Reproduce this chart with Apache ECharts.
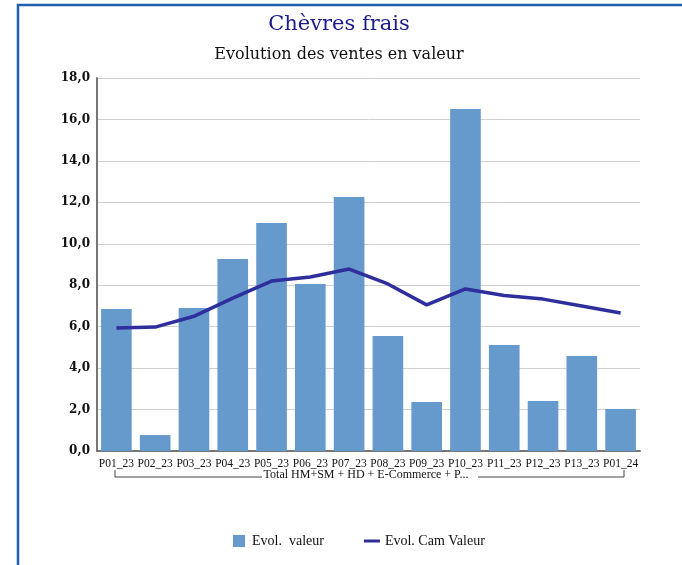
<!DOCTYPE html>
<html><head><meta charset="utf-8">
<script src="https://cdn.jsdelivr.net/npm/echarts@6/dist/echarts.min.js"></script>
<style>html,body{margin:0;padding:0;background:#fff}#c{width:682px;height:565px}</style>
</head><body><div id="c"></div>
<script>
var categories = ['P01_23','P02_23','P03_23','P04_23','P05_23','P06_23','P07_23','P08_23','P09_23','P10_23','P11_23','P12_23','P13_23','P01_24'];
var evolValeur = [6.85, 0.77, 6.9, 9.27, 11.0, 8.06, 12.26, 5.55, 2.36, 16.5, 5.12, 2.41, 4.58, 2.03];
var evolCamValeur = [5.93, 5.98, 6.5, 7.38, 8.2, 8.4, 8.78, 8.06, 7.05, 7.82, 7.5, 7.33, 7.0, 6.66];
var yTicks = {min: 0, max: 18, interval: 2};
var groupLabel = 'Total HM+SM + HD + E-Commerce + P...';

var SERIF_W = '"DejaVu Serif", "Liberation Serif", serif';
var SERIF_N = '"Liberation Serif", "DejaVu Serif", serif';
var chart = echarts.init(document.getElementById('c'));
chart.setOption({
  animation: false,
  textStyle: {fontFamily: SERIF_N},
  title: [
    {text: 'Chèvres frais', left: 334, textAlign: 'center', top: 9,
     textStyle: {fontFamily: SERIF_W, fontSize: 21, fontWeight: 'normal', color: '#1c1c8f'}},
    {text: 'Evolution des ventes en valeur', left: 334, textAlign: 'center', top: 42,
     textStyle: {fontFamily: SERIF_W, fontSize: 16, fontWeight: 'normal', color: '#111'}}
  ],
  grid: {left: 97, right: 42, top: 78, bottom: 114},
  legend: {
    top: 529, left: 228, itemGap: 40, itemWidth: 16, itemHeight: 12, symbolKeepAspect: true,
    textStyle: {fontFamily: SERIF_N, fontSize: 14, color: '#111'},
    data: [
      {name: 'Evol.  valeur', icon: 'path://M0,0H12V12H0Z'},
      {name: 'Evol. Cam Valeur', icon: 'path://M0,0H16V3H0Z', itemStyle: {color: '#2e2e9c'}}
    ]
  },
  xAxis: {
    type: 'category', data: categories,
    axisLine: {lineStyle: {color: '#777', width: 2}},
    axisTick: {show: false},
    axisLabel: {interval: 0, color: '#111', fontSize: 11.5, margin: 7, fontFamily: SERIF_N}
  },
  yAxis: {
    type: 'value', min: yTicks.min, max: yTicks.max, interval: yTicks.interval,
    axisLine: {show: true, lineStyle: {color: '#777', width: 2}},
    axisTick: {show: false},
    splitLine: {lineStyle: {color: '#d0d0d0', width: 1}},
    axisLabel: {color: '#111', fontSize: 12, fontWeight: 'bold', margin: 7, fontFamily: SERIF_W,
      formatter: function (v) { return v.toFixed(1).replace('.', ','); }}
  },
  graphic: [
    {type: 'rect', shape: {x: 18, y: 5, width: 700, height: 600}, style: {fill: 'none', stroke: '#1e5fb0', lineWidth: 2.5}},
    {type: 'polyline', shape: {points: [[115, 470], [115, 477], [262, 477]]}, style: {fill: 'none', stroke: '#444', lineWidth: 1}},
    {type: 'polyline', shape: {points: [[478, 477], [624, 477], [624, 470]]}, style: {fill: 'none', stroke: '#444', lineWidth: 1}},
    {type: 'text', x: 366, y: 475, style: {text: groupLabel, fontFamily: SERIF_N, fontSize: 12, fill: '#111', textAlign: 'center', textVerticalAlign: 'middle'}}
  ],
  series: [
    {name: 'Evol.  valeur', type: 'bar', data: evolValeur, barCategoryGap: '21%',
     itemStyle: {color: '#6699cc'}},
    {name: 'Evol. Cam Valeur', type: 'line', data: evolCamValeur, symbol: 'none', smooth: false,
     lineStyle: {color: '#2e2e9c', width: 3.5}, itemStyle: {color: '#2e2e9c'}}
  ]
});
</script></body></html>
